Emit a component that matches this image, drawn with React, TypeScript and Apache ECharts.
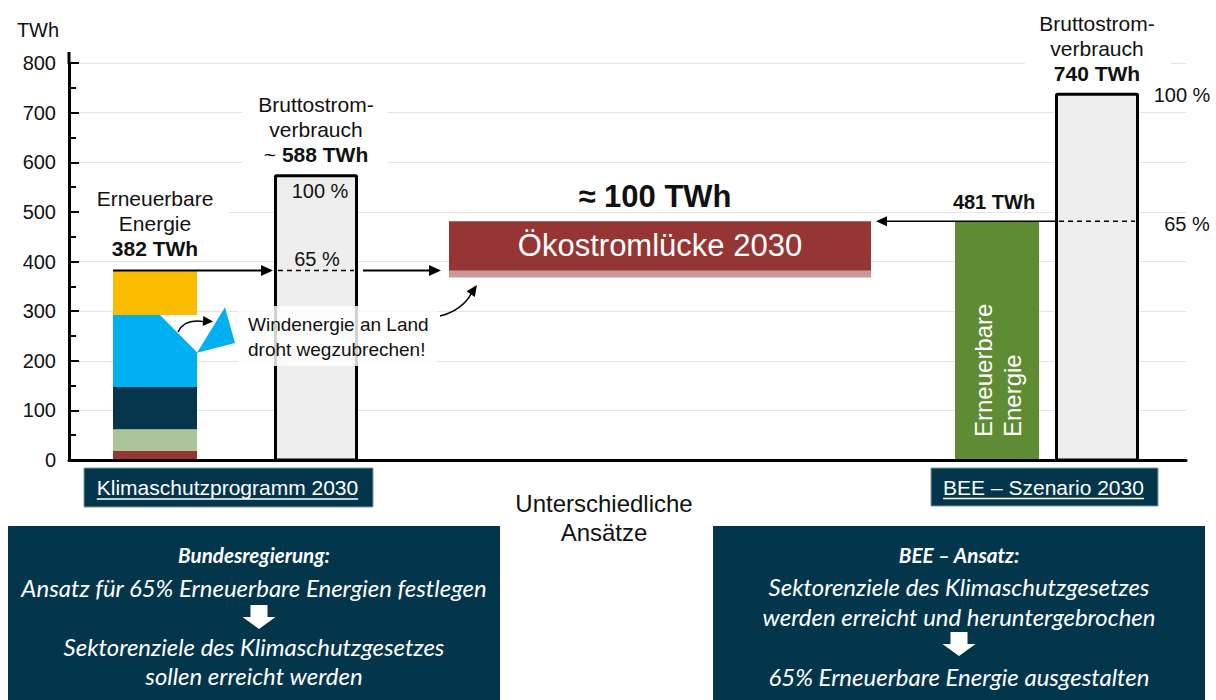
import React, { useEffect, useRef } from "react";
import * as echarts from "echarts";

// ---------------- data (TWh) ----------------
const renewableSources = ["Wasserkraft & Sonstige", "Biomasse", "Wind auf See", "Wind an Land", "Photovoltaik"];
const renewableKSP = [18, 44, 85, 145, 90]; // Klimaschutzprogramm 2030, stacked
const grossConsumptionBars = [576, 740]; // drawn bar heights
const grossConsumptionValues = ["588 TWh", "740 TWh"];
const grossConsumptionPrefix = ["~ ", ""];
const renewableBEE = 481;
const gapTitle = "≈ 100 TWh";
const gapName = "Ökostromlücke 2030";
const shareLabels = ["100 %", "65 %"];
const scenarioNames = ["Klimaschutzprogramm 2030", "BEE – Szenario 2030"];
const unitLabel = "TWh";
const yMin = 0;
const yMax = 800;
const yInterval = 100;
const leftLabelLines = ["Erneuerbare", "Energie"];
const grossLabelLines = ["Bruttostrom-", "verbrauch"];
const windNote = ["Windenergie an Land", "droht wegzubrechen!"];
const middleNote = ["Unterschiedliche", "Ansätze"];
const leftBoxTitle = "Bundesregierung:";
const leftBoxBefore = ["Ansatz für 65% Erneuerbare Energien festlegen"];
const leftBoxAfter = ["Sektorenziele des Klimaschutzgesetzes", "sollen erreicht werden"];
const rightBoxTitle = "BEE – Ansatz:";
const rightBoxBefore = ["Sektorenziele des Klimaschutzgesetzes", "werden erreicht und heruntergebrochen"];
const rightBoxAfter = ["65% Erneuerbare Energie ausgestalten"];

// ---------------- layout & styles ----------------
const FONT = '"Liberation Sans", Arial, Helvetica, sans-serif';
const BOX_FONT = 'Lato, "Open Sans", sans-serif';
const GRID = { left: 69, right: 30, top: 63, bottom: 240 };
const X_SPAN = 1216 - GRID.left - GRID.right; // x axis in pixel-like units
const POS = { ksp: 86, kspGross: 247, gap: 591, bee: 928, beeGross: 1028 };
const BAR_W = 84;
const GAP_W = 422;
const sourceColors = ["#963634", "#adc49a", "#05364b", "#00b0f0", "#fbbc00"];
const GRAY = "#eeeeee";
const GAP_RED = "#963634";
const GAP_SHADOW = "#cc9897";
const GREEN = "#5f8b34";
const NAVY = "#04364b";
const TEXT = "#111111";

const sum = (a: number[]) => a.reduce((s, v) => s + v, 0);

export default function App() {
  const ref = useRef<HTMLDivElement>(null);

  useEffect(() => {
    const el = ref.current!;
    const chart = echarts.init(el, null, { renderer: "svg" });

    // bar items: [xCenter, yStart, yEnd, width]
    const items: number[][] = [];
    const styles: any[] = [];
    let cum = 0;
    renewableKSP.forEach((v, i) => {
      items.push([POS.ksp, cum, cum + v, BAR_W]);
      styles.push({ fill: sourceColors[i], name: renewableSources[i] });
      cum += v;
    });
    const kspTotal = cum;
    items.push([POS.kspGross, 0, grossConsumptionBars[0], BAR_W]);
    styles.push({ fill: GRAY, stroke: "#000" });
    items.push([POS.gap, kspTotal, renewableBEE, GAP_W]);
    styles.push({ fill: GAP_RED, shadow: GAP_SHADOW });
    items.push([POS.bee, 0, renewableBEE, BAR_W]);
    styles.push({ fill: GREEN });
    items.push([POS.beeGross, 0, grossConsumptionBars[1], BAR_W]);
    styles.push({ fill: GRAY, stroke: "#000" });

    const renderItem = (params: any, api: any) => {
      const i = params.dataIndex;
      const xc = api.value(0);
      const y0 = api.value(1);
      const y1 = api.value(2);
      const w = api.value(3);
      const a = api.coord([xc - w / 2, y1]);
      const b = api.coord([xc + w / 2, y0]);
      const r = { x: a[0], y: a[1], width: b[0] - a[0], height: b[1] - a[1] };
      const st = styles[i];
      if (st.shadow) {
        return {
          type: "group",
          children: [
            { type: "rect", shape: { ...r, y: r.y + 7 }, style: { fill: st.shadow } },
            { type: "rect", shape: r, style: { fill: st.fill } },
          ],
        };
      }
      if (st.stroke) {
        return {
          type: "rect",
          shape: { x: r.x + 1.5, y: r.y + 1.5, width: r.width - 3, height: r.height - 1.5, r: 1 },
          style: { fill: st.fill, stroke: st.stroke, lineWidth: 3 },
        };
      }
      return { type: "rect", shape: r, style: { fill: st.fill } };
    };

    chart.setOption({
      animation: false,
      backgroundColor: "#ffffff",
      textStyle: { fontFamily: FONT },
      grid: { left: GRID.left, right: GRID.right, top: GRID.top, bottom: GRID.bottom },
      xAxis: {
        type: "value",
        min: 0,
        max: X_SPAN,
        z: 5,
        axisLine: { show: true, onZero: false, lineStyle: { color: "#000", width: 3 } },
        axisTick: { show: false },
        axisLabel: { show: false },
        splitLine: { show: false },
      },
      yAxis: {
        type: "value",
        min: yMin,
        max: yMax,
        interval: yInterval,
        axisLine: { show: true, lineStyle: { color: "#000", width: 3 } },
        axisTick: { show: true, inside: true, length: 10, lineStyle: { color: "#000", width: 2 } },
        minorTick: { show: true, splitNumber: 2, length: 7, lineStyle: { color: "#000", width: 2 } },
        axisLabel: { fontSize: 20, color: TEXT, margin: 13, fontFamily: FONT },
        splitLine: { show: true, lineStyle: { color: "#e4e4e4", width: 1 } },
      },
      series: [
        {
          type: "custom",
          renderItem,
          data: items,
          encode: { x: 0, y: [1, 2] },
          clip: false,
        },
      ],
    });

    const px = (x: number, y: number) => chart.convertToPixel({ gridIndex: 0 } as any, [x, y]) as number[];
    const cv = document.createElement("canvas");
    const ctx = cv.getContext("2d")!;
    const measure = (t: string, font: string) => {
      ctx.font = font;
      return ctx.measureText(t).width;
    };

    const g: any[] = [];
    const Z = 20;
    const text = (t: string, x: number, y: number, o: any = {}) =>
      g.push({
        type: "text",
        x,
        y,
        z: Z,
        rotation: o.rotation || 0,
        style: {
          text: t,
          fill: o.fill || TEXT,
          fontSize: o.size || 21,
          fontFamily: o.family || FONT,
          fontWeight: o.weight || "normal",
          fontStyle: o.style || "normal",
          align: o.align || "center",
          verticalAlign: "middle",
          lineHeight: o.lineHeight,
        },
      });
    const line = (x1: number, y1: number, x2: number, y2: number, o: any = {}) =>
      g.push({
        type: "line",
        z: Z,
        shape: { x1, y1, x2, y2 },
        style: { stroke: o.stroke || "#000", lineWidth: o.width || 2, lineDash: o.dash },
      });
    const poly = (pts: number[][], fill: string) =>
      g.push({ type: "polygon", z: Z, shape: { points: pts }, style: { fill } });
    const arrowHead = (tx: number, ty: number, dx: number, dy: number, len = 11, hw = 5) => {
      const n = Math.hypot(dx, dy);
      const ux = dx / n;
      const uy = dy / n;
      const bx = tx - ux * len;
      const by = ty - uy * len;
      poly(
        [
          [tx, ty],
          [bx - uy * hw, by + ux * hw],
          [bx + uy * hw, by - ux * hw],
        ],
        "#000"
      );
    };

    // y-axis extension above top tick
    const top800 = px(0, yMax);
    line(top800[0], top800[1] + 1, top800[0], top800[1] - 11, { width: 3 });

    // white backgrounds of labels (interrupt the grid lines)
    const rectBg = (x: number, y: number, w: number, h: number, op = 1) =>
      g.push({ type: "rect", z: Z - 1, shape: { x, y, width: w, height: h }, style: { fill: "#fff", opacity: op } });
    const kspC = px(POS.ksp, kspTotal);
    const kspGrossTop = px(POS.kspGross, grossConsumptionBars[0]);
    const beeGrossTop = px(POS.beeGross, grossConsumptionBars[1]);
    rectBg(kspC[0] - 76, kspC[1] - 86, 150, 76);
    rectBg(kspGrossTop[0] - 74, kspGrossTop[1] - 84, 146, 76);
    rectBg(beeGrossTop[0] - 72, beeGrossTop[1] - 86, 146, 78);

    // notch in the onshore-wind segment
    const blueTop = sum(renewableKSP.slice(0, 4));
    const half = BAR_W / 2;
    g.push({
      type: "polygon",
      z: Z,
      shape: { points: [px(POS.ksp + 5, blueTop), px(POS.ksp + half + 0.5, blueTop), px(POS.ksp + half + 0.5, 216)] },
      style: { fill: "#fff" },
    });
    poly([px(POS.ksp + 70, 308), px(POS.ksp + 80, 236), px(POS.ksp + half, 216)], sourceColors[3]);
    // small curved arrow
    const s0 = px(POS.ksp + 23, 258);
    g.push({
      type: "bezierCurve",
      z: Z,
      shape: { x1: s0[0], y1: s0[1], x2: s0[0] + 27, y2: s0[1] - 10, cpx1: s0[0] + 7, cpy1: s0[1] - 14 },
      style: { stroke: "#000", lineWidth: 1.5, fill: "none" },
    });
    arrowHead(s0[0] + 35, s0[1] - 10.5, 1, 0.05, 10, 5);

    // Klimaschutzprogramm arrows
    const kspL = px(POS.ksp - half, kspTotal);
    const grossL = px(POS.kspGross - half, kspTotal);
    const grossR = px(POS.kspGross + half, kspTotal);
    const gapL = px(POS.gap - GAP_W / 2, kspTotal);
    const gapR = px(POS.gap + GAP_W / 2, renewableBEE);
    const beeL = px(POS.beeGross - half, renewableBEE);
    const beeR = px(POS.beeGross + half, renewableBEE);
    line(kspL[0], kspL[1], grossL[0] - 10, kspL[1], { width: 2 });
    arrowHead(grossL[0] - 1, kspL[1], 1, 0, 12, 5.5);
    line(grossL[0] + 4, kspL[1], grossR[0] - 4, kspL[1], { width: 1.5, dash: [5, 4] });
    line(grossR[0] + 5, kspL[1], gapL[0] - 18, kspL[1], { width: 2 });
    arrowHead(gapL[0] - 8, kspL[1], 1, 0, 12, 5.5);

    // BEE arrows
    line(beeL[0] + 2, beeL[1], gapR[0] + 14, beeL[1], { width: 1.5 });
    arrowHead(gapR[0] + 5, beeL[1], -1, 0, 11, 5);
    line(beeL[0] + 4, beeL[1], beeR[0] - 4, beeL[1], { width: 1.5, dash: [5, 4] });

    // curved arrow from note to gap bar
    const c0 = px(POS.gap - GAP_W / 2 - 9, 290);
    g.push({
      type: "bezierCurve",
      z: Z,
      shape: { x1: c0[0], y1: c0[1], x2: c0[0] + 31, y2: c0[1] - 22, cpx1: c0[0] + 22, cpy1: c0[1] - 6 },
      style: { stroke: "#000", lineWidth: 1.5, fill: "none" },
    });
    arrowHead(c0[0] + 37, c0[1] - 31, 0.57, -0.82, 11, 5);

    // texts
    text(unitLabel, 38, 30, { size: 20 });
    text(leftLabelLines[0], kspC[0], kspC[1] - 72);
    text(leftLabelLines[1], kspC[0], kspC[1] - 47);
    text(`${kspTotal} TWh`, kspC[0], kspC[1] - 22, { weight: "bold" });

    const drawGrossLabel = (i: number, cx: number, topY: number) => {
      text(grossLabelLines[0], cx, topY - 70);
      text(grossLabelLines[1], cx, topY - 45);
      const pre = grossConsumptionPrefix[i];
      const val = grossConsumptionValues[i];
      const wPre = measure(pre, `21px ${FONT}`);
      const wVal = measure(val, `bold 21px ${FONT}`);
      const x0 = cx - (wPre + wVal) / 2;
      if (pre) text(pre, x0, topY - 20, { align: "left" });
      text(val, x0 + wPre, topY - 20, { align: "left", weight: "bold" });
    };
    drawGrossLabel(0, kspGrossTop[0], kspGrossTop[1]);
    drawGrossLabel(1, beeGrossTop[0], beeGrossTop[1] + 1);

    text(shareLabels[0], kspGrossTop[0] + 4, kspGrossTop[1] + 17, { size: 20 });
    text(shareLabels[1], kspGrossTop[0] + 1, kspL[1] - 11, { size: 20 });
    text(shareLabels[0], beeR[0] + 43, beeGrossTop[1] + 2, { size: 20 });
    text(shareLabels[1], beeR[0] + 48, beeR[1] + 3, { size: 20 });

    const gapC = px(POS.gap, (kspTotal + renewableBEE) / 2);
    const gapTop = px(POS.gap, renewableBEE);
    text(gapTitle, gapC[0] - 5, gapTop[1] - 25, { size: 31, weight: "bold" });
    text(gapName, gapC[0], gapC[1], { size: 31, fill: "#ffffff" });

    const beeTop = px(POS.bee, renewableBEE);
    text(`${renewableBEE} TWh`, beeTop[0] - 3, beeTop[1] - 19, { size: 20, weight: "bold" });
    const beeBottom = px(POS.bee, 0);
    text(leftLabelLines.join("\n"), beeBottom[0] + 1, beeBottom[1] - 23, {
      size: 24,
      fill: "#ffffff",
      align: "left",
      rotation: Math.PI / 2,
      lineHeight: 29,
    });

    // wind note
    rectBg(238, 306, 199, 60, 0.82);
    text(windNote[0], 248, 324, { size: 19, align: "left" });
    text(windNote[1], 248, 349, { size: 19, align: "left" });

    // scenario boxes
    const scenarioBox = (label: string, x: number, y: number, w: number, h: number) => {
      g.push({
        type: "rect",
        z: Z,
        shape: { x, y, width: w, height: h },
        style: { fill: NAVY, stroke: "#7d98a6", lineWidth: 1 },
      });
      const cx = x + w / 2 - 1;
      const cy = y + h / 2;
      text(label, cx, cy, { size: 21, fill: "#ffffff" });
      const tw = measure(label, `21px ${FONT}`);
      line(cx - tw / 2, cy + 11.5, cx + tw / 2, cy + 11.5, { stroke: "#ffffff", width: 1.5 });
    };
    scenarioBox(scenarioNames[0], 84, 468, 289, 39);
    scenarioBox(scenarioNames[1], 931, 468, 227, 38);

    text(middleNote[0], 604, 503, { size: 24 });
    text(middleNote[1], 604, 532, { size: 24 });

    // bottom boxes
    const bodySize = (20 * 466) / measure(leftBoxBefore[0], `italic 20px ${BOX_FONT}`);
    const titleSize = (20 * 152) / measure(leftBoxTitle, `italic bold 20px ${BOX_FONT}`);
    const downArrow = (cx: number, y: number) =>
      poly(
        [
          [cx - 8.5, y],
          [cx + 8.5, y],
          [cx + 8.5, y + 12],
          [cx + 16.5, y + 12],
          [cx, y + 24],
          [cx - 16.5, y + 12],
          [cx - 8.5, y + 12],
        ],
        "#ffffff"
      );
    const bottomBox = (x: number, title: string, before: string[], after: string[], ys: number[], arrowY: number) => {
      g.push({ type: "rect", z: Z, shape: { x, y: 526, width: 492, height: 180 }, style: { fill: NAVY } });
      const cx = x + 246;
      const bo = { size: bodySize, family: BOX_FONT, style: "italic", fill: "#ffffff" };
      text(title, cx, ys[0], { size: titleSize, family: BOX_FONT, style: "italic", weight: "bold", fill: "#ffffff" });
      let k = 1;
      before.forEach((t) => text(t, cx, ys[k++], bo));
      downArrow(cx + (x < 600 ? 5 : 0), arrowY);
      after.forEach((t) => text(t, cx, ys[k++], bo));
    };
    bottomBox(8, leftBoxTitle, leftBoxBefore, leftBoxAfter, [555, 587, 646, 675], 605);
    bottomBox(713, rightBoxTitle, rightBoxBefore, rightBoxAfter, [555, 586, 616, 676], 632);

    chart.setOption({ graphic: { elements: g } });

    return () => chart.dispose();
  }, []);

  return <div ref={ref} style={{ position: "absolute", left: 0, top: 0, width: 1216, height: 700 }} />;
}
